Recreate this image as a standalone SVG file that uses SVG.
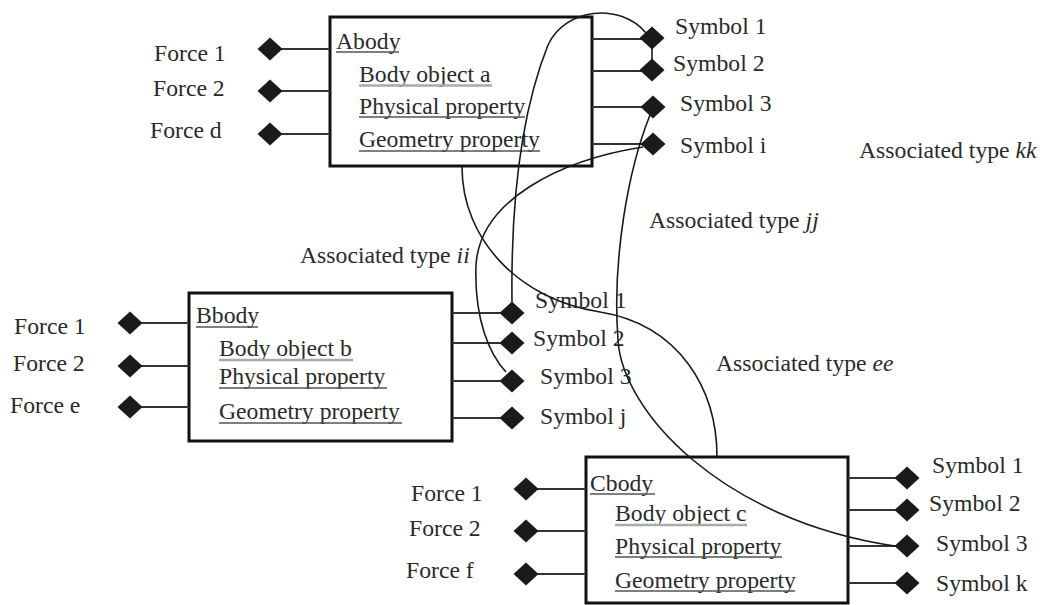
<svg xmlns="http://www.w3.org/2000/svg" width="1048" height="605" viewBox="0 0 1048 605">
  <style>
    .box { fill: #fff; stroke: #111; stroke-width: 3; }
    .port { stroke: #333; stroke-width: 2; fill: none; }
    .t { font-family: "Liberation Serif", "Times New Roman", serif; font-size: 23.7px; fill: #2a2a2a; }
    .ul { stroke: #555; stroke-width: 1.5; }
    .ul2 { stroke: #aaa; stroke-width: 2.5; }
    .link { fill: none; stroke: #1a1a1a; stroke-width: 1.6; }
  </style>
  <defs>
    <path id="dia" d="M-12.5,0 L0,-11.5 L12.5,0 L0,11.5 Z" fill="#1a1a1a"/>
  </defs>
  <rect width="1048" height="605" fill="#fff"/>

  <!-- Abody -->
  <g id="abody">
    <rect class="box" x="330" y="17" width="262" height="149"/>
    <line class="port" x1="270" y1="49" x2="330" y2="49"/>
    <line class="port" x1="270" y1="91" x2="330" y2="91"/>
    <line class="port" x1="270" y1="134" x2="330" y2="134"/>
    <line class="port" x1="592" y1="39" x2="652" y2="39"/>
    <line class="port" x1="592" y1="71" x2="652" y2="71"/>
    <line class="port" x1="592" y1="107" x2="652" y2="107"/>
    <line class="port" x1="592" y1="144" x2="652" y2="144"/>
    <use href="#dia" x="270" y="49"/>
    <use href="#dia" x="270" y="91"/>
    <use href="#dia" x="270" y="134"/>
    <use href="#dia" x="652" y="38"/>
    <use href="#dia" x="652" y="70"/>
    <use href="#dia" x="653" y="107"/>
    <use href="#dia" x="653" y="144"/>
    <text class="t" x="154" y="61">Force 1</text>
    <text class="t" x="153" y="96">Force 2</text>
    <text class="t" x="150" y="138">Force d</text>
    <text class="t" x="336" y="49">Abody</text>
    <line class="ul" x1="336" y1="52" x2="399" y2="52"/>
    <text class="t" x="359" y="82">Body object a</text>
    <line class="ul2" x1="359" y1="85.5" x2="492" y2="85.5"/>
    <text class="t" x="359" y="114">Physical property</text>
    <line class="ul" x1="359" y1="117" x2="525" y2="117"/>
    <text class="t" x="359" y="147">Geometry property</text>
    <line class="ul" x1="359" y1="151" x2="540" y2="151"/>
    <text class="t" x="675" y="34">Symbol 1</text>
    <text class="t" x="673" y="71">Symbol 2</text>
    <text class="t" x="680" y="111">Symbol 3</text>
    <text class="t" x="680" y="153">Symbol i</text>
  </g>

  <!-- Bbody -->
  <g id="bbody">
    <rect class="box" x="189" y="293" width="263" height="148"/>
    <line class="port" x1="130" y1="323" x2="189" y2="323"/>
    <line class="port" x1="130" y1="366" x2="189" y2="366"/>
    <line class="port" x1="130" y1="407" x2="189" y2="407"/>
    <line class="port" x1="452" y1="313" x2="512" y2="313"/>
    <line class="port" x1="452" y1="343" x2="512" y2="343"/>
    <line class="port" x1="452" y1="381" x2="512" y2="381"/>
    <line class="port" x1="452" y1="418" x2="512" y2="418"/>
    <use href="#dia" x="130" y="323"/>
    <use href="#dia" x="130" y="366"/>
    <use href="#dia" x="130" y="407"/>
    <use href="#dia" x="512" y="313"/>
    <use href="#dia" x="512" y="343"/>
    <use href="#dia" x="512" y="381"/>
    <use href="#dia" x="512" y="418"/>
    <text class="t" x="14" y="334">Force 1</text>
    <text class="t" x="13" y="371">Force 2</text>
    <text class="t" x="10" y="413">Force e</text>
    <text class="t" x="196" y="323">Bbody</text>
    <line class="ul" x1="196" y1="327" x2="258" y2="327"/>
    <text class="t" x="219" y="356">Body object b</text>
    <line class="ul2" x1="219" y1="360" x2="353" y2="360"/>
    <text class="t" x="219" y="384">Physical property</text>
    <line class="ul" x1="219" y1="388" x2="387" y2="388"/>
    <text class="t" x="219" y="419">Geometry property</text>
    <line class="ul" x1="219" y1="423" x2="402" y2="423"/>
    <text class="t" x="535" y="308">Symbol 1</text>
    <text class="t" x="533" y="346">Symbol 2</text>
    <text class="t" x="540" y="384">Symbol 3</text>
    <text class="t" x="540" y="424">Symbol j</text>
  </g>

  <!-- Cbody -->
  <g id="cbody">
    <rect class="box" x="586" y="457" width="262" height="146"/>
    <line class="port" x1="526" y1="489" x2="586" y2="489"/>
    <line class="port" x1="526" y1="531" x2="586" y2="531"/>
    <line class="port" x1="526" y1="574" x2="586" y2="574"/>
    <line class="port" x1="848" y1="478" x2="907" y2="478"/>
    <line class="port" x1="848" y1="510" x2="907" y2="510"/>
    <line class="port" x1="848" y1="546" x2="907" y2="546"/>
    <line class="port" x1="848" y1="583" x2="907" y2="583"/>
    <use href="#dia" x="526" y="489"/>
    <use href="#dia" x="526" y="531"/>
    <use href="#dia" x="526" y="574"/>
    <use href="#dia" x="907" y="478"/>
    <use href="#dia" x="907" y="510"/>
    <use href="#dia" x="907" y="546"/>
    <use href="#dia" x="907" y="583"/>
    <text class="t" x="411" y="501">Force 1</text>
    <text class="t" x="409" y="536">Force 2</text>
    <text class="t" x="406" y="578">Force f</text>
    <text class="t" x="590" y="491">Cbody</text>
    <line class="ul" x1="590" y1="494" x2="655" y2="494"/>
    <text class="t" x="615" y="521">Body object c</text>
    <line class="ul2" x1="615" y1="525" x2="747" y2="525"/>
    <text class="t" x="615" y="554">Physical property</text>
    <line class="ul" x1="615" y1="557" x2="782" y2="557"/>
    <text class="t" x="615" y="588">Geometry property</text>
    <line class="ul" x1="615" y1="591" x2="795" y2="591"/>
    <text class="t" x="932" y="473">Symbol 1</text>
    <text class="t" x="929" y="511">Symbol 2</text>
    <text class="t" x="936" y="551">Symbol 3</text>
    <text class="t" x="936" y="591">Symbol k</text>
  </g>

  <!-- association curves between symbol ports -->
  <g id="connectors">
    <path class="link" d="M512,302 C511,220 518,120 548,45 C565,8 620,2 646,33"/>
    <line class="link" x1="652" y1="38" x2="652" y2="70"/>
    <path class="link" d="M650,115 C628,170 612,260 618,340 C622,410 720,520 895,546"/>
    <path class="link" d="M643,147 C560,160 480,200 476,265 C474,320 490,355 506,372"/>
    <path class="link" d="M462,167 C462,240 520,300 600,312 C680,325 717,390 717,457"/>
  </g>

  <!-- association type labels -->
  <g id="labels">
    <text class="t" x="859" y="158">Associated type <tspan font-style="italic">kk</tspan></text>
    <text class="t" x="649" y="228">Associated type <tspan font-style="italic">jj</tspan></text>
    <text class="t" x="300" y="263">Associated type <tspan font-style="italic">ii</tspan></text>
    <text class="t" x="716" y="371">Associated type <tspan font-style="italic">ee</tspan></text>
  </g>
</svg>
